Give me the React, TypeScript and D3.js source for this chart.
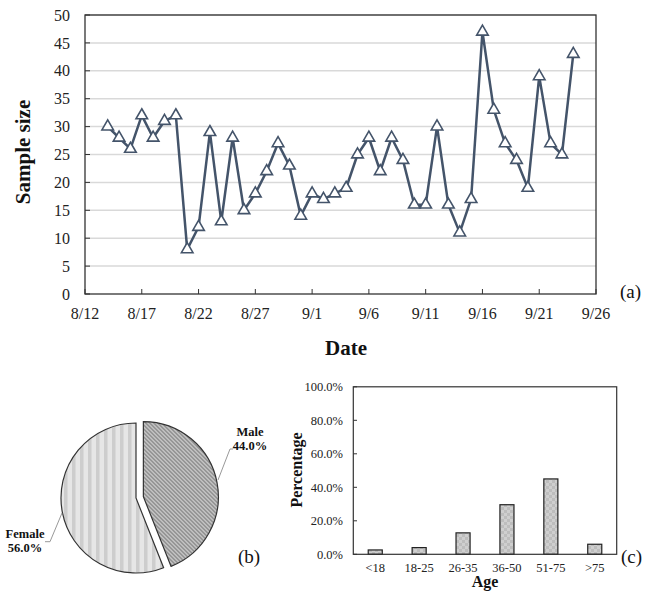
import React from "react";
import * as d3 from "d3";

const dates: string[] = [
  "8/14","8/15","8/16","8/17","8/18","8/19","8/20","8/21","8/22","8/23","8/24","8/25","8/26","8/27","8/28","8/29","8/30","8/31",
  "9/1","9/2","9/3","9/4","9/5","9/6","9/7","9/8","9/9","9/10","9/11","9/12","9/13","9/14","9/15","9/16","9/17","9/18","9/19","9/20","9/21","9/22","9/23","9/24",
];
const sampleSizes: number[] = [
  30,28,26,32,28,31,32,8,12,29,13,28,15,18,22,27,23,14,
  18,17,18,19,25,28,22,28,24,16,16,30,16,11,17,47,33,27,24,19,39,27,25,43,
];
const dateTicks: string[] = ["8/12","8/17","8/22","8/27","9/1","9/6","9/11","9/16","9/21","9/26"];
const sizeTicks: number[] = [0,5,10,15,20,25,30,35,40,45,50];

const genders: string[] = ["Male", "Female"];
const genderShares: number[] = [44.0, 56.0];

const ageGroups: string[] = ["<18","18-25","26-35","36-50","51-75",">75"];
const agePercents: number[] = [2.6, 4.0, 12.8, 29.6, 45.0, 6.0];
const pctTicks: number[] = [0,20,40,60,80,100];

const FONT = "'Liberation Serif', 'Times New Roman', serif";
const LINE = "#44546A";

const parseMD = (s: string) => {
  const [m, d] = s.split("/").map(Number);
  return new Date(2020, m - 1, d);
};

export default function App() {
  // ---- top chart ----
  const x = d3.scaleTime().domain([parseMD("8/12"), parseMD("9/26")]).range([85, 596]);
  const y = d3.scaleLinear().domain([0, 50]).range([294, 15]);
  const pts = dates.map((d, i) => [x(parseMD(d)), y(sampleSizes[i])] as [number, number]);
  const linePath = d3.line()(pts) || "";
  const tri = d3.symbol().type(d3.symbolTriangle).size(58)() || "";

  // ---- pie ----
  const pieCx = 136, pieCy = 498, r = 75;
  const pie = d3.pie<number>().sort(null).startAngle(0).endAngle(2 * Math.PI)(genderShares);
  const arc = d3.arc<d3.PieArcDatum<number>>().innerRadius(0).outerRadius(r);
  const explode = 7.5;

  // ---- bar chart ----
  const bx = d3.scaleBand().domain(ageGroups).range([353.3, 616.7]).paddingInner(0.68).paddingOuter(0.34);
  const by = d3.scaleLinear().domain([0, 100]).range([554.3, 386.8]);

  return (
    <svg width={652} height={592} style={{ display: "block", position: "absolute", left: 0, top: 0 }} fontFamily={FONT}>
      <defs>
        <pattern id="femalePat" width="8" height="8" patternUnits="userSpaceOnUse">
          <rect width="8" height="8" fill="#e6e6e6" />
          <rect x="0" width="3" height="8" fill="#cdcdcd" />
          <rect x="3" width="1" height="8" fill="#d9d9d9" />
        </pattern>
        <pattern id="malePat" width="4" height="4" patternUnits="userSpaceOnUse">
          <rect width="4" height="4" fill="#d4d4d4" />
          <path d="M-1,-1 L5,5 M-1,3 L1,5 M3,-1 L5,1" stroke="#666" strokeWidth="1.1" />
        </pattern>
        <pattern id="barPat" width="6" height="6" patternUnits="userSpaceOnUse">
          <rect width="6" height="6" fill="#cfcfcf" />
          <rect width="3" height="3" fill="#bdbdbd" />
          <rect x="3" y="3" width="3" height="3" fill="#bdbdbd" />
        </pattern>
      </defs>

      {/* ===== (a) line chart ===== */}
      <g>
        {sizeTicks.filter((t) => t > 0).map((t) => (
          <line key={"g" + t} x1={85} x2={596} y1={y(t)} y2={y(t)} stroke="#d9d9d9" strokeWidth={1.5} />
        ))}
        <rect x={85} y={15} width={511} height={279} fill="none" stroke="#333" strokeWidth={1.3} />
        {sizeTicks.map((t) => (
          <g key={"yt" + t}>
            <line x1={85} x2={90} y1={y(t)} y2={y(t)} stroke="#333" strokeWidth={1} />
            <text x={70} y={y(t)} dy="0.35em" textAnchor="end" fontSize={16} fill="#222">{t}</text>
          </g>
        ))}
        {dateTicks.map((t) => (
          <g key={"xt" + t}>
            <line x1={x(parseMD(t))} x2={x(parseMD(t))} y1={294} y2={289} stroke="#333" strokeWidth={1} />
            <text x={x(parseMD(t))} y={319} textAnchor="middle" fontSize={16} fill="#222">{t}</text>
          </g>
        ))}
        <path d={linePath} fill="none" stroke={LINE} strokeWidth={2.5} strokeLinejoin="round" />
        {pts.map((p, i) => (
          <path key={"m" + i} d={tri} transform={`translate(${p[0]},${p[1]})`} fill="#fff" stroke={LINE} strokeWidth={1.6} />
        ))}
        <text transform="translate(30,152) rotate(-90)" textAnchor="middle" fontSize={21} fontWeight="bold" fill="#111">Sample size</text>
        <text x={346} y={355} textAnchor="middle" fontSize={21} fontWeight="bold" fill="#111">Date</text>
        <text x={620} y={298} fontSize={19} fill="#111">(a)</text>
      </g>

      {/* ===== (b) pie ===== */}
      <g>
        {pie.map((s, i) => {
          const mid = (s.startAngle + s.endAngle) / 2;
          const off = i === 0 ? explode : 0;
          const dx = Math.sin(mid) * off, dy = -Math.cos(mid) * off;
          return (
            <path key={"p" + i} d={arc(s) || ""} transform={`translate(${pieCx + dx},${pieCy + dy})`}
              fill={i === 0 ? "url(#malePat)" : "url(#femalePat)"} stroke="#333" strokeWidth={1.2} />
          );
        })}
        <polyline points="218,480 230,449 233,449" fill="none" stroke="#999" strokeWidth={1} />
        <polyline points="62,513 50,541.7 45,541.7" fill="none" stroke="#999" strokeWidth={1} />
        <text x={250} y={436} textAnchor="middle" fontSize={12.5} fontWeight="bold" fill="#111">{genders[0]}</text>
        <text x={250} y={450} textAnchor="middle" fontSize={12.5} fontWeight="bold" fill="#111">{genderShares[0].toFixed(1)}%</text>
        <text x={25} y={538} textAnchor="middle" fontSize={12.5} fontWeight="bold" fill="#111">{genders[1]}</text>
        <text x={25} y={552} textAnchor="middle" fontSize={12.5} fontWeight="bold" fill="#111">{genderShares[1].toFixed(1)}%</text>
        <text x={238} y={563} fontSize={19} fill="#111">(b)</text>
      </g>

      {/* ===== (c) bar chart ===== */}
      <g>
        {ageGroups.map((g, i) => (
          <rect key={"b" + g} x={bx(g)} y={by(agePercents[i])} width={bx.bandwidth()} height={by(0) - by(agePercents[i])}
            fill="url(#barPat)" stroke="#222" strokeWidth={1.2} />
        ))}
        <rect x={353.3} y={386.8} width={263.4} height={167.5} fill="none" stroke="#333" strokeWidth={1.2} />
        {pctTicks.map((t) => (
          <g key={"bt" + t}>
            <line x1={353.3} x2={357} y1={by(t)} y2={by(t)} stroke="#333" strokeWidth={1} />
            <text x={343} y={by(t)} dy="0.35em" textAnchor="end" fontSize={12.5} fill="#222">{t.toFixed(1)}%</text>
          </g>
        ))}
        {ageGroups.map((g) => (
          <text key={"bl" + g} x={(bx(g) || 0) + bx.bandwidth() / 2} y={572} textAnchor="middle" fontSize={12.5} fill="#222">{g}</text>
        ))}
        <text transform="translate(302,470) rotate(-90)" textAnchor="middle" fontSize={16} fontWeight="bold" fill="#111">Percentage</text>
        <text x={485} y={587} textAnchor="middle" fontSize={16} fontWeight="bold" fill="#111">Age</text>
        <text x={621} y={563} fontSize={19} fill="#111">(c)</text>
      </g>
    </svg>
  );
}
